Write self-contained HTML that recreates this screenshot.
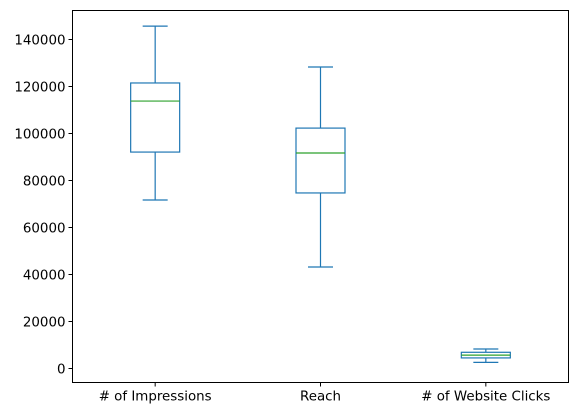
<!DOCTYPE html>
<html><head><meta charset="utf-8"><style>
body{margin:0;background:#fff;}
svg text{font-family:"DejaVu Sans","Liberation Sans",sans-serif;font-size:13.4px;fill:#000;}
</style></head><body>
<svg id="chart" width="578" height="413" xmlns="http://www.w3.org/2000/svg"></svg>
<script>
const categories = ["# of Impressions", "Reach", "# of Website Clicks"];
const whiskerLow = [71700, 43200, 2600];
const q1Values = [92100, 74700, 4500];
const medianValues = [113800, 91700, 5700];
const q3Values = [121500, 102300, 6900];
const whiskerHigh = [145700, 128300, 8300];
const yTicks = [0, 20000, 40000, 60000, 80000, 100000, 120000, 140000];

const svg = document.getElementById('chart');
const NS = 'http://www.w3.org/2000/svg';
const L = 72.5, R = 568.5, T = 10.5, B = 382.5;
const y = v => 368.5 - v / 20000 * 47;
const x = i => L + (R - L) * (i + 0.5) / categories.length;
function mk(tag, attrs, parent) {
  const e = document.createElementNS(NS, tag);
  for (const k in attrs) e.setAttribute(k, attrs[k]);
  (parent || svg).appendChild(e);
  return e;
}
const blue = '#1f77b4', green = '#2ca02c';
categories.forEach((c, i) => {
  const g = mk('g', {'stroke-width': 1.2});
  
  
  const cx = x(i), hw = 24.5, cw = 12.5;
  mk('line', {x1: cx, x2: cx, y1: y(q3Values[i]), y2: y(whiskerHigh[i]), stroke: blue}, g);
  mk('line', {x1: cx, x2: cx, y1: y(q1Values[i]), y2: y(whiskerLow[i]), stroke: blue}, g);
  mk('line', {x1: cx - cw, x2: cx + cw, y1: y(whiskerHigh[i]), y2: y(whiskerHigh[i]), stroke: blue}, g);
  mk('line', {x1: cx - cw, x2: cx + cw, y1: y(whiskerLow[i]), y2: y(whiskerLow[i]), stroke: blue}, g);
  mk('rect', {x: cx - hw, y: y(q3Values[i]), width: 2 * hw, height: y(q1Values[i]) - y(q3Values[i]), fill: 'none', stroke: blue}, g);
  mk('line', {x1: cx - hw, x2: cx + hw, y1: y(medianValues[i]), y2: y(medianValues[i]), stroke: green}, g);
  mk('line', {x1: cx, x2: cx, y1: B, y2: B + 4, stroke: '#000'});
  const t = mk('text', {x: cx, y: B + 18, 'text-anchor': 'middle'});
  t.textContent = c;
  
  
});
yTicks.forEach(v => {
  mk('line', {x1: L - 4, x2: L, y1: y(v), y2: y(v), stroke: '#000'});
  const t = mk('text', {x: L - 7, y: y(v) + 5, 'text-anchor': 'end'});
  t.textContent = v;
  
  
});
const frame = mk('rect', {x: L, y: T, width: R - L, height: B - T, fill: 'none', stroke: '#000'});


</script>
</body></html>
